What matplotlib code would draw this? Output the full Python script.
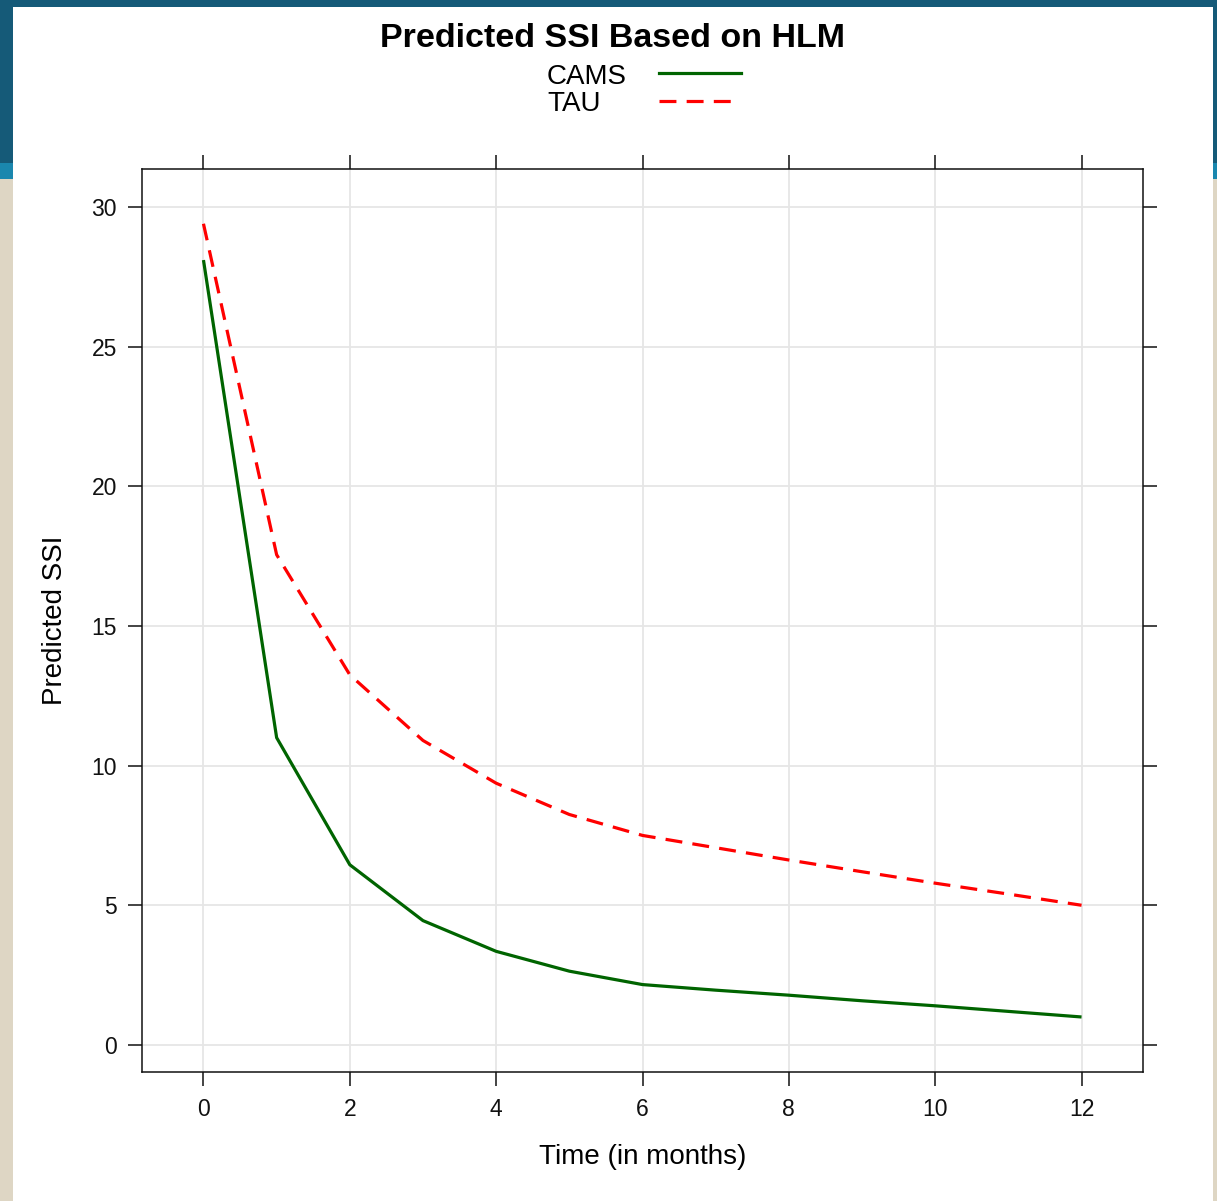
import matplotlib
matplotlib.use("Agg")
import matplotlib.pyplot as plt
from matplotlib.patches import Rectangle
from matplotlib.lines import Line2D

plt.rcParams['font.family'] = ['Liberation Sans', 'DejaVu Sans']

# ---- data ----
months = [0, 1, 2, 3, 4, 5, 6, 7, 8, 9, 10, 11, 12]
cams = [28.1, 11.0, 6.45, 4.45, 3.35, 2.64, 2.16, 1.96, 1.78, 1.58, 1.40, 1.20, 1.00]
tau = [29.4, 17.55, 13.25, 10.9, 9.37, 8.25, 7.5, 7.06, 6.62, 6.2, 5.79, 5.4, 5.0]
series_names = ["CAMS", "TAU"]
x_ticks = [0, 2, 4, 6, 8, 10, 12]
y_ticks = [0, 5, 10, 15, 20, 25, 30]
title = "Predicted SSI Based on HLM"
xlabel = "Time (in months)"
ylabel = "Predicted SSI"

W, H = 1217, 1201
fig = plt.figure(figsize=(W / 100, H / 100), dpi=100, facecolor="white")

# decorative slide background
def px_rect(x0, y0, x1, y1, color):
    fig.add_artist(Rectangle((x0 / W, 1 - y1 / H), (x1 - x0) / W, (y1 - y0) / H,
                             transform=fig.transFigure, facecolor=color,
                             edgecolor="none", zorder=-10))

teal = "#155a78"
blue = "#1a87ae"
beige = "#ded6c4"
px_rect(0, 0, W, 7, teal)
px_rect(0, 0, 13, 163, teal)
px_rect(0, 163, 13, 179, blue)
px_rect(0, 179, 13, H, beige)
px_rect(1213, 0, W, 163, teal)
px_rect(1213, 163, W, 179, blue)
px_rect(1213, 179, W, H, beige)

# axes
ax_l, ax_r, ax_t, ax_b = 142, 1143, 169, 1072
ax = fig.add_axes([ax_l / W, 1 - ax_b / H, (ax_r - ax_l) / W, (ax_b - ax_t) / H])

green = "#006400"
red = "#ff0000"
ax.plot(months, cams, color=green, lw=2.3, solid_capstyle="butt", zorder=3)
ax.plot(months, tau, color=red, lw=2.3, dashes=(5.3, 3.2), zorder=3)

ax.set_xlim(-0.84, 12.84)
ax.set_ylim(-0.97, 31.36)
ax.set_xticks(x_ticks)
ax.set_yticks(y_ticks)
ax.grid(True, color="#e6e6e6", lw=1.3, zorder=0)
ax.set_axisbelow(True)

for s in ax.spines.values():
    s.set_linewidth(1.1)
    s.set_color("#111111")

ax.tick_params(axis="both", which="major", direction="out", length=10, width=1.1,
               color="#111111", labelsize=16.5, labelcolor="#111111",
               top=True, right=True, labeltop=False, labelright=False)
ax.tick_params(axis="x", pad=9)
ax.tick_params(axis="y", pad=8)

ax.set_xlabel(xlabel, fontsize=20, labelpad=16)
ax.set_ylabel(ylabel, fontsize=20, labelpad=17)

# title
fig.text(612 / W, 1 - 47 / H, title, fontsize=24.5, fontweight="bold",
         ha="center", va="baseline")

# legend (manual, lattice-style key)
fig.text(547 / W, 1 - 84 / H, series_names[0], fontsize=20, ha="left", va="baseline")
fig.text(547 / W, 1 - 111 / H, series_names[1], fontsize=20, ha="left", va="baseline")
fig.add_artist(Line2D([659 / W, 741 / W], [1 - 73 / H, 1 - 73 / H],
                      transform=fig.transFigure, color=green, lw=2.3))
fig.add_artist(Line2D([659 / W, 731 / W], [1 - 101 / H, 1 - 101 / H],
                      transform=fig.transFigure, color=red, lw=2.3, dashes=(5.3, 3.2)))

fig.savefig("out.png", dpi=100, facecolor="white")
